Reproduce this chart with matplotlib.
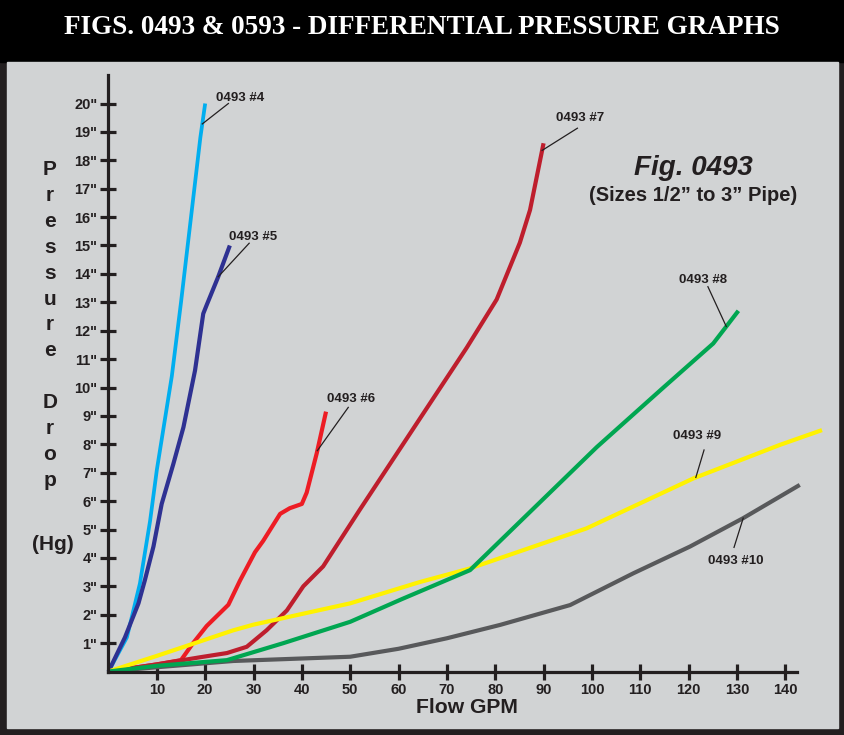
import numpy as np
import matplotlib
matplotlib.use('Agg')
import matplotlib.pyplot as plt
from matplotlib.patches import Rectangle


flow_4 = [0, 3.8, 6.5, 8.6, 10, 13.1, 15, 17, 19, 20]
drop_4 = [0, 1.2, 3.1, 5.3, 7.1, 10.4, 13.0, 15.9, 18.8, 20.0]

flow_5 = [0, 3.4, 6.2, 7.5, 9.3, 11, 13.4, 15.5, 17.9, 19.6, 20.3, 22.7, 25.1]
drop_5 = [0, 1.2, 2.4, 3.2, 4.4, 5.9, 7.3, 8.6, 10.6, 12.6, 12.9, 13.9, 15.0]

flow_6 = [0, 10, 15, 17.5, 20.3, 24.8, 27.2, 30.3, 32, 35.5, 37.5, 40, 41, 43.1, 45]
drop_6 = [0, 0.25, 0.4, 1.0, 1.6, 2.35, 3.2, 4.2, 4.6, 5.55, 5.75, 5.9, 6.3, 7.7, 9.15]

flow_7 = [0, 10, 18.9, 24.5, 28.6, 32.7, 36.9, 40.3, 44.4, 52, 64.4, 74.1, 80.3, 85.1, 87.2, 90]
drop_7 = [0, 0.25, 0.5, 0.65, 0.87, 1.45, 2.15, 3.0, 3.7, 5.7, 8.9, 11.4, 13.1, 15.1, 16.25, 18.6]

flow_8 = [0, 10, 24.5, 36.2, 50, 60.7, 74.8, 101, 114.8, 125.1, 130.3]
drop_8 = [0, 0.2, 0.4, 1.0, 1.75, 2.55, 3.57, 7.9, 10.0, 11.55, 12.7]

flow_9 = [0, 10, 25.8, 30, 50, 64.4, 74.8, 98.9, 121, 138.9, 147.6]
drop_9 = [0, 0.55, 1.45, 1.65, 2.4, 3.15, 3.63, 5.04, 6.8, 7.98, 8.5]

flow_10 = [0, 10, 25.8, 50, 60, 70, 81, 95.5, 108.6, 120.3, 131.3, 143]
drop_10 = [0, 0.15, 0.37, 0.52, 0.8, 1.17, 1.64, 2.34, 3.46, 4.4, 5.4, 6.57]

x_ticks = list(range(10, 150, 10))
y_ticks = list(range(1, 21))
y_tick_labels = ['%d"' % v for v in y_ticks]


# Mise en page (pixels de l'image 845x735)

W, H = 845, 735
x0_px, y0_px = 108.5, 671.5        # origine des axes
px_per_gpm, px_per_inch = 4.834, 28.4

def fx(px):
    return px / W

def fy(py):
    return 1 - py / H

ink = '#231f20'
plt.rcParams['font.family'] = ['Liberation Sans', 'DejaVu Sans']
plt.rcParams['font.weight'] = 'bold'

fig = plt.figure(figsize=(W / 100, H / 100), dpi=100)
fig.patch.set_facecolor(ink)
fig.add_artist(Rectangle((0, fy(62)), 1, 62 / H, transform=fig.transFigure,
                         color='black', zorder=0))
fig.add_artist(Rectangle((fx(7), fy(728)), (838 - 7) / W, (728 - 62) / H,
                         transform=fig.transFigure, color='#d1d3d4', zorder=0))

ax = fig.add_axes([fx(x0_px), fy(y0_px), (830 - x0_px) / W, (y0_px - 70) / H])
ax.set_xlim(0, (830 - x0_px) / px_per_gpm)
ax.set_ylim(0, (y0_px - 70) / px_per_inch)
ax.patch.set_alpha(0)

for side in ('top', 'right'):
    ax.spines[side].set_visible(False)
for side in ('left', 'bottom'):
    ax.spines[side].set_linewidth(2.3)
    ax.spines[side].set_color(ink)
ax.spines['bottom'].set_bounds(0, 142.4)
ax.spines['left'].set_bounds(0, 21.0)

ax.set_xticks(x_ticks)
ax.set_xticklabels([str(v) for v in x_ticks])
ax.set_yticks(y_ticks)
ax.set_yticklabels(y_tick_labels)
ax.tick_params(direction='inout', length=12, width=2.3, colors=ink,
               labelsize=10.5, pad=2)

# courbes (ordre de tracé = ordre de superposition)
series = [
    ('0493 #4', flow_4, drop_4, '#00aeef', 2.7),
    ('0493 #5', flow_5, drop_5, '#2e3192', 3),
    ('0493 #10', flow_10, drop_10, '#58595b', 3),
    ('0493 #6', flow_6, drop_6, '#ed1c24', 3),
    ('0493 #7', flow_7, drop_7, '#be1e2d', 3),
    ('0493 #9', flow_9, drop_9, '#fff200', 3),
    ('0493 #8', flow_8, drop_8, '#00a651', 3),
]
for name, f, d, c, w in series:
    ax.plot(f, d, color=c, lw=w, clip_on=False, solid_capstyle='butt',
            solid_joinstyle='round')

# étiquettes : texte (gpm, inch), départ du trait, point sur la courbe (gpm)
labels = {
    '0493 #4': ((22.2, 20.2), (24.8, 20.0), 19.4),
    '0493 #5': ((24.9, 15.3), (29.1, 15.08), 22.7),
    '0493 #6': ((45.1, 9.58), (49.6, 9.3), 43.2),
    '0493 #7': ((92.6, 19.5), (97.0, 19.13), 89.7),
    '0493 #8': ((118.1, 13.8), (124.0, 13.55), 127.8),
    '0493 #9': ((116.8, 8.29), (123.2, 7.8), 121.5),
    '0493 #10': ((124.0, 3.9), (129.4, 4.37), 131.3),
}
for name, f, d, c, w in series:
    (tx, ty), (sx, sy), tip = labels[name]
    ax.plot([sx, tip], [sy, np.interp(tip, f, d)], color=ink, lw=0.9,
            clip_on=False)
    ax.text(tx, ty, name, fontsize=9.5, ha='left', va='center', color=ink)

# titres
fig.text(fx(422), fy(34), 'FIGS. 0493 & 0593 - DIFFERENTIAL PRESSURE GRAPHS',
         family='Liberation Serif', fontsize=19.5, fontweight='bold',
         color='white', ha='center', va='baseline')
fig.text(fx(693), fy(175), 'Fig. 0493', fontsize=20, fontstyle='italic',
         fontweight='heavy', color=ink, ha='center', va='baseline')
fig.text(fx(692.7), fy(201), '(Sizes 1/2\u201d to 3\u201d Pipe)', fontsize=14.5,
         color=ink, ha='center', va='baseline')
fig.text(fx(466.7), fy(713), 'Flow GPM', fontsize=15.2, color=ink,
         ha='center', va='baseline')

for i, letter in enumerate('Pressure Drop'):
    if letter != ' ':
        fig.text(fx(50), fy(175 + 25.9 * i), letter, fontsize=15, color=ink,
                 ha='center', va='baseline')
fig.text(fx(53), fy(544), '(Hg)', fontsize=15, color=ink, ha='center',
         va='center')

fig.savefig('out.png', dpi=100, facecolor=fig.get_facecolor())
